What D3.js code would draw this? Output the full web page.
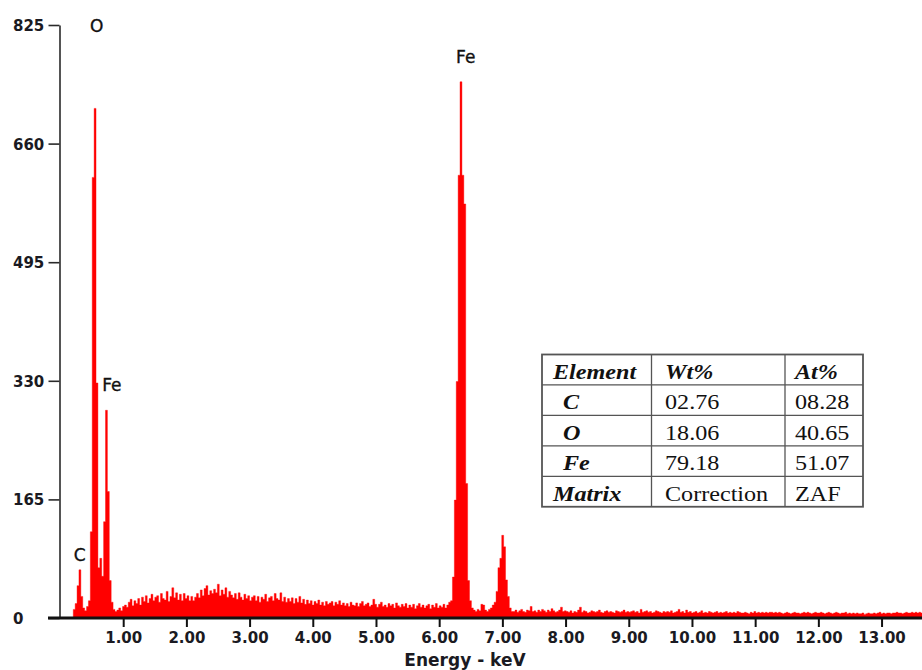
<!DOCTYPE html>
<html>
<head>
<meta charset="utf-8">
<script src="https://cdn.jsdelivr.net/npm/d3@7"></script>
<style>
  html, body { margin: 0; padding: 0; background: #fff; }
  svg { display: block; }
</style>
</head>
<body>
<svg id="chart" width="922" height="670"></svg>
<script>
// EDS spectrum: counts per 0.03 keV channel, starting at 0 keV
const channelWidth = 0.03;
const counts = [
  0, 0, 0, 0, 0, 0, 0, 12, 20, 45,            // 0.00-0.30
  67, 30, 14, 10, 16, 24, 120, 613, 709, 327,  // 0.30-0.60
  70, 83, 58, 134, 289, 176, 52, 22, 12, 9,    // 0.60-0.90
  11, 14, 10, 16, 18, 15, 22, 26, 17, 24,      // 0.90-1.20
  20, 27, 18, 29, 23, 31, 21, 27, 33, 24,      // 1.20-1.50
  29, 31, 22, 34, 27, 25, 37, 23, 30, 42,      // 1.50-1.80
  28, 35, 25, 33, 24, 34, 27, 31, 24, 30,      // 1.80-2.10
  24, 29, 34, 28, 39, 31, 41, 45, 32, 38,      // 2.10-2.40
  34, 40, 35, 47, 31, 39, 33, 42, 29, 37,      // 2.40-2.70
  32, 28, 34, 26, 35, 29, 25, 33, 27, 31,      // 2.70-3.00
  24, 29, 31, 24, 30, 22, 29, 26, 33, 23,      // 3.00-3.30
  28, 30, 24, 34, 27, 25, 35, 23, 29, 22,      // 3.30-3.60
  27, 23, 28, 20, 27, 22, 30, 21, 26, 19,      // 3.60-3.90
  25, 20, 24, 18, 23, 20, 25, 18, 22, 17,      // 3.90-4.20
  23, 19, 21, 23, 17, 22, 19, 24, 18, 21,      // 4.20-4.50
  17, 20, 16, 22, 18, 17, 21, 16, 20, 23,      // 4.50-4.80
  17, 19, 21, 16, 18, 26, 19, 15, 19, 22,      // 4.80-5.10
  16, 18, 15, 20, 17, 19, 14, 21, 17, 15,      // 5.10-5.40
  19, 16, 20, 14, 18, 15, 19, 13, 17, 20,      // 5.40-5.70
  15, 18, 14, 17, 19, 13, 18, 15, 20, 14,      // 5.70-6.00
  17, 15, 19, 14, 18, 22, 24, 57, 164, 329,    // 6.00-6.30
  616, 746, 616, 576, 187, 52, 24, 14, 11, 9,  // 6.30-6.60
  12, 10, 19, 18, 11, 9, 12, 14, 18, 22,       // 6.60-6.90
  37, 70, 83, 115, 99, 53, 30, 14, 9, 9,       // 6.90-7.20
  11, 8, 10, 12, 9, 8, 11, 10, 16, 9,          // 7.20-7.50
  10, 8, 11, 9, 12, 10, 8, 11, 9, 13,          // 7.50-7.80
  10, 8, 9, 11, 15, 9, 10, 9, 8, 10,           // 7.80-8.10
  7, 9, 8, 11, 15, 8, 10, 9, 7, 8,             // 8.10-8.40
  10, 9, 8, 9, 11, 8, 7, 9, 10, 8,             // 8.40-8.70
  9, 8, 7, 10, 9, 8, 9, 11, 8, 9,              // 8.70-9.00
  8, 9, 10, 8, 9, 7, 12, 8, 9, 10,             // 9.00-9.30
  8, 9, 7, 8, 10, 9, 8, 7, 9, 8,               // 9.30-9.60
  9, 8, 10, 7, 8, 9, 12, 8, 9, 7,              // 9.60-9.90
  11, 8, 9, 7, 8, 9, 7, 8, 10, 7,              // 9.90-10.20
  8, 7, 9, 8, 7, 8, 9, 7, 8, 7,                // 10.20-10.50
  8, 9, 7, 8, 7, 8, 7, 9, 8, 7,                // 10.50-10.80
  7, 8, 7, 6, 8, 7, 9, 7, 8, 7,                // 10.80-11.10
  8, 7, 8, 7, 8, 8, 7, 8, 7, 8,                // 11.10-11.40
  7, 6, 7, 8, 7, 6, 7, 8, 7, 7,                // 11.40-11.70
  6, 7, 8, 7, 8, 7, 6, 7, 8, 7,                // 11.70-12.00
  7, 8, 7, 6, 7, 8, 7, 6, 7, 8,                // 12.00-12.30
  7, 6, 7, 7, 8, 6, 7, 6, 7, 6,                // 12.30-12.60
  7, 6, 6, 7, 5, 6, 7, 6, 6, 7,                // 12.60-12.90
  6, 7, 8, 6, 7, 6, 7, 7, 6, 7,                // 12.90-13.20
  7, 8, 7, 7, 6, 7, 8, 7, 7, 8,                // 13.20-13.50
  7, 8, 7, 8, 7                                // 13.50-13.65
];

const xTicks = [1, 2, 3, 4, 5, 6, 7, 8, 9, 10, 11, 12, 13];
const yTicks = [0, 165, 330, 495, 660, 825];
const xTitle = "Energy - keV";

// Peak annotations, anchored in energy / count units
const peakLabels = [
  { text: "O",  energy: 0.58, count: 815 },
  { text: "Fe", energy: 6.42, count: 772 },
  { text: "Fe", energy: 0.82, count: 316 },
  { text: "C",  energy: 0.31, count: 79 }
];

// Quantification table
const tableHeader = ["Element", "Wt%", "At%"];
const tableElements = ["C", "O", "Fe", "Matrix"];
const tableWt = ["02.76", "18.06", "79.18", "Correction"];
const tableAt = ["08.28", "40.65", "51.07", "ZAF"];

const svg = d3.select("#chart");
svg.append("rect").attr("width", 922).attr("height", 670).attr("fill", "#fff");

const x = d3.scaleLinear().domain([0, 13.64]).range([60, 922]);
const y = d3.scaleLinear().domain([0, 825]).range([618, 25]);

// Spectrum as a stepped filled area
const pts = counts.map((c, i) => ({ e: i * channelWidth, c }));
pts.push({ e: counts.length * channelWidth, c: counts[counts.length - 1] });
const area = d3.area()
  .curve(d3.curveStepAfter)
  .x(d => x(d.e))
  .y0(y(0))
  .y1(d => y(d.c));
svg.append("path")
  .datum(pts)
  .attr("d", area)
  .attr("fill", "#ff0000")
  .attr("stroke", "#ff0000")
  .attr("stroke-width", 0.4);

const tickFont = "'DejaVu Sans', Verdana, sans-serif";

// Y axis
const gy = svg.append("g").attr("transform", "translate(59.5,0)")
  .call(d3.axisLeft(y).tickValues(yTicks).tickSize(11).tickSizeOuter(0).tickFormat(d3.format("d")));
gy.select(".domain").attr("stroke", "#2a2a2a").attr("stroke-width", 1.6);
gy.selectAll(".tick line").attr("stroke", "#2a2a2a").attr("stroke-width", 1.6);
gy.selectAll(".tick text")
  .attr("text-anchor", "start")
  .attr("x", -46.5)
  .attr("dy", "0.36em")
  .style("font-family", tickFont)
  .style("font-weight", "bold")
  .style("font-size", "15px")
  .attr("fill", "#1a1a22");

// X axis
svg.append("line")
  .attr("x1", 48).attr("x2", 922)
  .attr("y1", y(0)).attr("y2", y(0))
  .attr("stroke", "#111").attr("stroke-width", 3);
const gx = svg.append("g").attr("transform", `translate(0,${y(0)})`)
  .call(d3.axisBottom(x).tickValues(xTicks).tickSize(9).tickFormat(d3.format(".2f")));
gx.select(".domain").remove();
gx.selectAll(".tick line").attr("stroke", "#111").attr("stroke-width", 2);
gx.selectAll(".tick text")
  .attr("y", 25).attr("dy", 0)
  .style("font-family", tickFont)
  .style("font-weight", "bold")
  .style("font-size", "15px")
  .attr("fill", "#1a1a22");

svg.append("text")
  .attr("x", 465).attr("y", 666)
  .attr("text-anchor", "middle")
  .style("font-family", tickFont)
  .style("font-weight", "bold")
  .style("font-size", "17px")
  .attr("fill", "#1a1a22")
  .text(xTitle);

// Peak labels
svg.selectAll("text.peak")
  .data(peakLabels)
  .join("text")
  .attr("class", "peak")
  .attr("x", d => x(d.energy))
  .attr("y", d => y(d.count))
  .attr("text-anchor", "middle")
  .style("font-family", tickFont)
  .style("font-size", "17px")
  .attr("fill", "#111")
  .attr("stroke", "#111")
  .attr("stroke-width", 0.35)
  .text(d => d.text);

// Table
const tbl = svg.append("g");
const tX0 = 542, tX1 = 863, tY0 = 354.5, rowH = 30.45;
const colX = [tX0, 651.5, 785, tX1];
const nRows = tableElements.length + 1;
tbl.append("rect")
  .attr("x", tX0).attr("y", tY0)
  .attr("width", tX1 - tX0).attr("height", rowH * nRows)
  .attr("fill", "#fff").attr("stroke", "#555").attr("stroke-width", 1.8);
for (let r = 1; r < nRows; r++) {
  tbl.append("line")
    .attr("x1", tX0).attr("x2", tX1)
    .attr("y1", tY0 + r * rowH).attr("y2", tY0 + r * rowH)
    .attr("stroke", "#555").attr("stroke-width", 1.3);
}
[colX[1], colX[2]].forEach(cx => {
  tbl.append("line")
    .attr("x1", cx).attr("x2", cx)
    .attr("y1", tY0).attr("y2", tY0 + rowH * nRows)
    .attr("stroke", "#555").attr("stroke-width", 1.3);
});

function cell(txt, cx, r, bold) {
  tbl.append("text")
    .attr("transform", `translate(${cx},${tY0 + (r + 1) * rowH - 6}) scale(1.15,1)`)
    .style("font-family", "'Liberation Serif', 'Times New Roman', serif")
    .style("font-size", "21px")
    .style("font-weight", bold ? "bold" : "normal")
    .style("font-style", bold ? "italic" : "normal")
    .attr("fill", "#111")
    .text(txt);
}
tableHeader.forEach((h, i) => cell(h, [553, 665, 795][i], 0, true));
tableElements.forEach((el, i) => {
  cell(el, el === "Matrix" ? 553 : 563, i + 1, true);
  cell(tableWt[i], 665, i + 1, false);
  cell(tableAt[i], 795, i + 1, false);
});
</script>
</body>
</html>
